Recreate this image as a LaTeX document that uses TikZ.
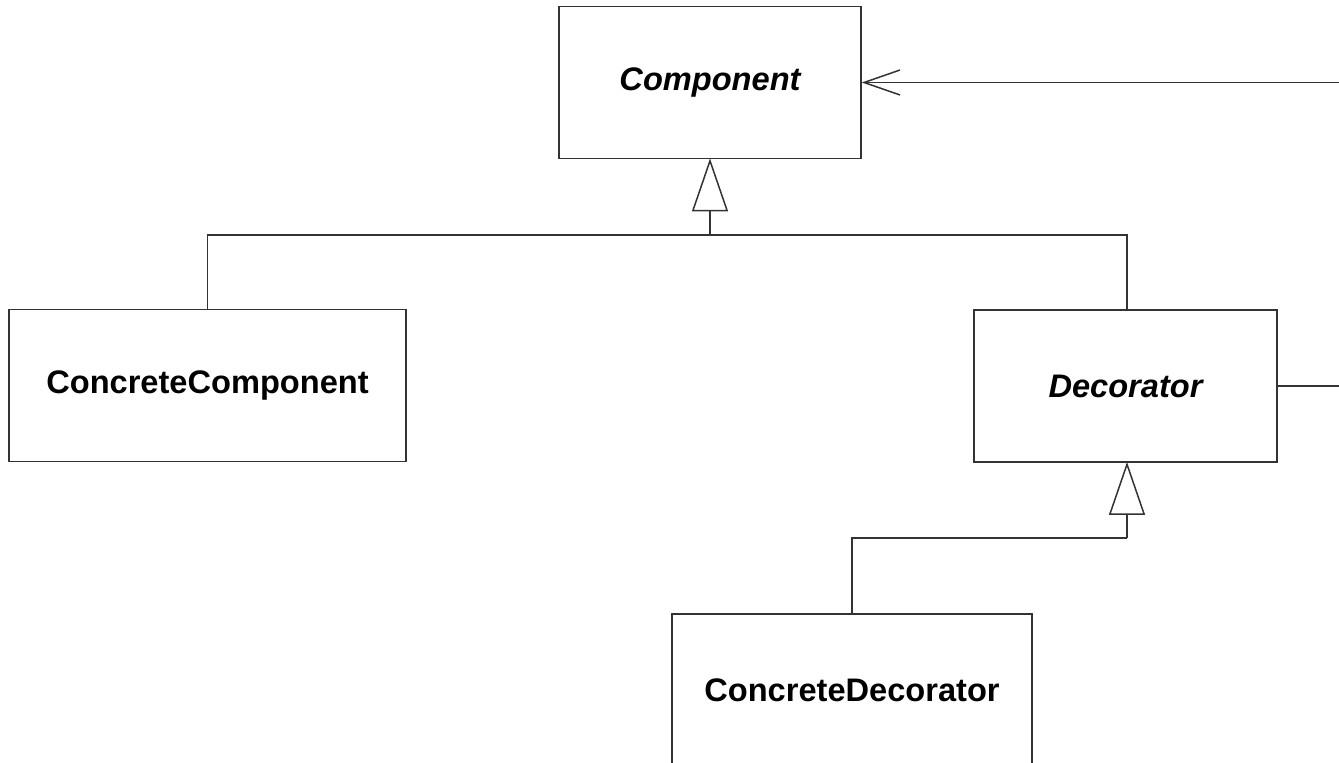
\documentclass[tikz,border=0pt]{standalone}
\usepackage{fontspec}
\setmainfont{Liberation Sans}
\usetikzlibrary{arrows.meta}
\begin{document}
\begin{tikzpicture}[x=0.5pt,y=-0.5pt,
  line width=0.75pt,
  classbox/.style={draw=black!80, fill=white, inner sep=0pt, minimum height=76pt,
    font=\fontsize{16.3}{19}\selectfont\bfseries, text=black},
  wire/.style={draw=black!80},
  inherit/.style={wire, shorten >=-0.4pt, -{Triangle[length=26.5pt, width=18pt, fill=white]}},
  assoc/.style={wire, -{Straight Barb[length=18pt, width=12.5pt]}}]
  \clip (0,0) rectangle (1339,763);
  \fill[white] (0,0) rectangle (1339,763);

  % classes
  \node[classbox, minimum width=151pt] (comp) at (710,82.5) {\itshape Component};
  \node[classbox, minimum width=198.5pt] (cc) at (207.5,385.5) {ConcreteComponent};
  \node[classbox, minimum width=151.5pt] (dec) at (1125.5,386) {\itshape Decorator};
  \node[classbox, minimum width=180pt] (cd) at (852,690) {ConcreteDecorator};

  % junction points of the inheritance trees
  \coordinate (j1) at (710,235);
  \coordinate (j2) at (1127,538);
  \coordinate (loop) at (1360,386);

  % inheritance: ConcreteComponent, Decorator -> Component
  \draw[wire] (cc.north) |- (j1) -| ([xshift=0.75pt]dec.north);
  \draw[inherit] (j1) -- (comp.south);

  % inheritance: ConcreteDecorator -> Decorator
  \draw[wire] (cd.north) |- (j2);
  \draw[inherit] (j2) -- ([xshift=0.75pt]dec.south);

  % aggregation: Decorator wraps a Component
  \draw[assoc] (dec.east) -- (loop) |- (comp.east);
\end{tikzpicture}
\end{document}
